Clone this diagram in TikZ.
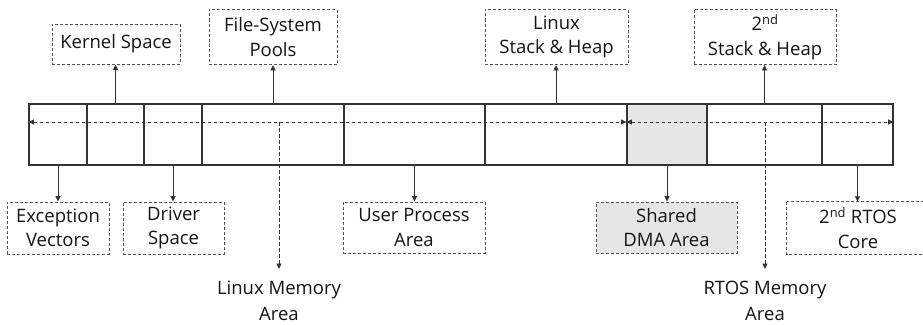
\documentclass[tikz,border=0pt]{standalone}
\usepackage{fontspec}
\setmainfont{Open Sans}
\usetikzlibrary{arrows.meta}
\definecolor{barline}{HTML}{333333}
\definecolor{tagline}{HTML}{555555}
\definecolor{shade}{HTML}{E6E6E6}
\definecolor{ink}{HTML}{151515}
\tikzset{
  cell/.style={draw=barline, line width=1.1pt, minimum height=61pt, inner sep=0pt, anchor=center},
  tagframe/.style={draw=tagline, line width=0.9pt, dash pattern=on 3pt off 2pt},
  tagtext/.style={inner sep=0pt, align=center, text=ink, font=\fontsize{18.5}{24.5}\selectfont},
  tag/.style={tagframe, tagtext},
  plain/.style={align=center, text=ink, inner sep=0pt, font=\fontsize{18.5}{25.5}\selectfont},
  link/.style={draw=barline, line width=0.9pt, -{Triangle[length=5.5pt,width=5pt]}},
  span/.style={draw=barline, line width=0.9pt, dash pattern=on 3.5pt off 2.5pt,
               {Triangle[length=5.5pt,width=5pt]}-{Triangle[length=5.5pt,width=5pt]}},
  drop/.style={draw=barline, line width=0.9pt, dash pattern=on 3.5pt off 2.5pt,
               -{Triangle[length=5.5pt,width=5pt]}}
}
\begin{document}
\begin{tikzpicture}[x=1pt, y=-1pt]
\useasboundingbox (0,0) rectangle (923,324);

% memory map bar
\node[cell, minimum width=58pt]  (c1) at (58,134.5) {};
\node[cell, minimum width=57pt]  (c2) at (115.5,134.5) {};
\node[cell, minimum width=58pt]  (c3) at (173,134.5) {};
\node[cell, minimum width=142pt] (c4) at (273,134.5) {};
\node[cell, minimum width=141pt] (c5) at (414.5,134.5) {};
\node[cell, minimum width=142pt] (c6) at (556,134.5) {};
\node[cell, minimum width=80pt, fill=shade] (c7) at (667,134.5) {};
\node[cell, minimum width=115pt] (c8) at (764.5,134.5) {};
\node[cell, minimum width=71pt]  (c9) at (857.5,134.5) {};

% labels above the bar
\node[tag, minimum width=128pt, minimum height=40pt] (kern) at (116,44) {Kernel Space};
\node[tag, minimum width=128pt, minimum height=55pt] (fsp) at (273,37) {File-System\\Pools};
\node[tag, minimum width=143pt, minimum height=55pt] (lsh) at (556.5,37) {Linux\\Stack \& Heap};
\node[tag, minimum width=142pt, minimum height=55pt] (ssh) at (765,37) {2\textsuperscript{nd}\\Stack \& Heap};

% labels below the bar
\node[tag, minimum width=102pt, minimum height=52pt] (exc) at (58,228) {Exception\\Vectors};
\node[tag, minimum width=101pt, minimum height=52pt] (drv) at (173.5,228) {Driver\\Space};
\node[tag, minimum width=142pt, minimum height=51pt] (upa) at (414,227.5) {User Process\\Area};
\node[tag, minimum width=141pt, minimum height=51pt, fill=shade] (dma) at (666.5,227.5) {Shared\\DMA Area};
% this frame runs past the right edge of the page
\node[tagtext, minimum width=142pt, minimum height=52pt] (rtc) at (858,228) {2\textsuperscript{nd} RTOS\\Core};
\draw[tagframe] (rtc.north west) rectangle ([xshift=24pt]rtc.south east);

% region names
\node[plain, anchor=north] (lma) at (279,281) {Linux Memory\\Area};
\node[plain, anchor=north] (rma) at (765,281) {RTOS Memory\\Area};

% cell-to-label connectors
\draw[link] (c2.north) -- (c2.north |- kern.south);
\draw[link] (c4.north) -- (c4.north |- fsp.south);
\draw[link] (c6.north) -- (c6.north |- lsh.south);
\draw[link] (c8.north) -- (c8.north |- ssh.south);
\draw[link] (c1.south) -- (c1.south |- exc.north);
\draw[link] (c3.south) -- (c3.south |- drv.north);
\draw[link] (c5.south) -- (c5.south |- upa.north);
\draw[link] (c7.south) -- (c7.south |- dma.north);
\draw[link] (c9.south) -- (c9.south |- rtc.north);

% extents of the two memory areas
\coordinate (ls) at ([yshift=12.5pt]c1.west);
\coordinate (le) at ([yshift=12.5pt]c7.west);
\coordinate (re) at ([yshift=12.5pt]c9.east);
\draw[span] (ls) -- (le);
\draw[span] (le) -- (re);
\coordinate (lmtop) at (279,122);
\coordinate (rmtop) at (765,122);
\coordinate (lmend) at ([yshift=12pt]lmtop |- lma.north);
\coordinate (rmend) at ([yshift=12pt]rmtop |- rma.north);
\draw[drop] (lmtop) -- (lmend);
\draw[drop] (rmtop) -- (rmend);
\end{tikzpicture}
\end{document}
